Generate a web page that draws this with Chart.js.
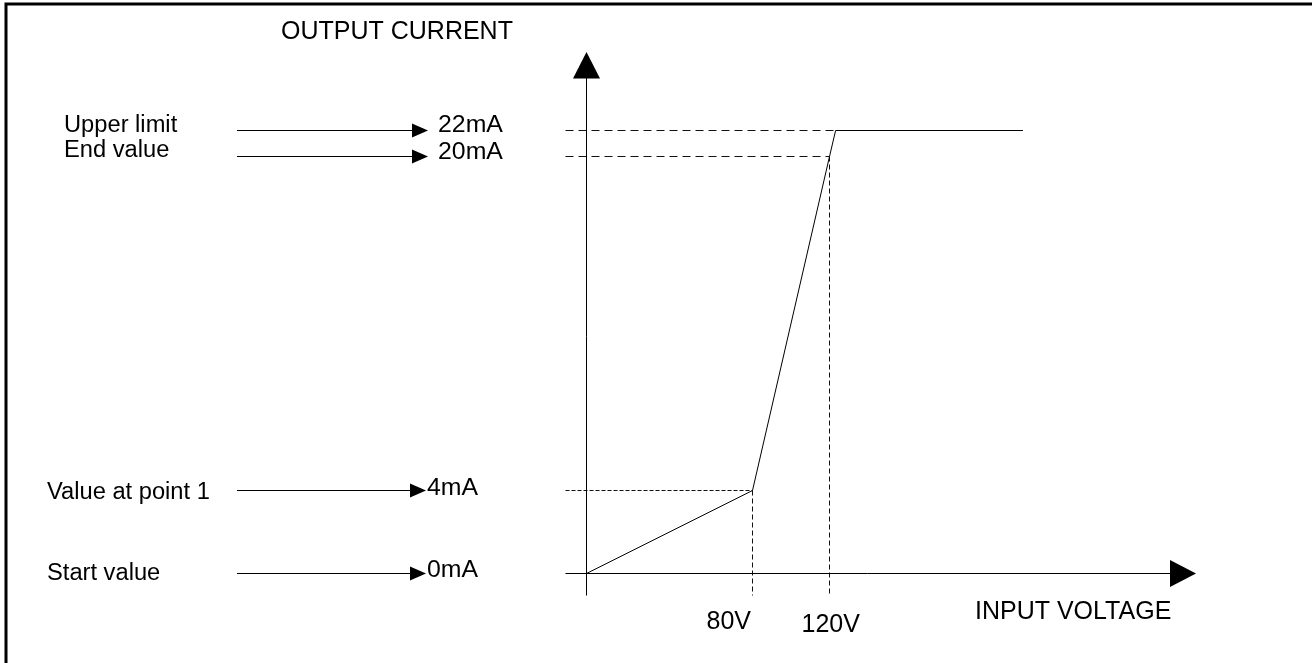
<!DOCTYPE html>
<html>
<head>
<meta charset="utf-8">
<script src="https://cdn.jsdelivr.net/npm/chart.js@4/dist/chart.umd.min.js"></script>
<style>
  html, body { margin: 0; padding: 0; background: #fff; }
  #wrap { width: 1312px; height: 663px; position: relative; }
</style>
</head>
<body>
<div id="wrap"><canvas id="c" width="1312" height="663"></canvas></div>
<script>
// Transfer characteristic: input voltage (V) -> output current (mA)
const voltage = [0, 80, 120, 123, 215];
const current = [0, 4, 20, 22, 22];

// Named current levels listed on the left
const levelNames  = ['Upper limit', 'End value', 'Value at point 1', 'Start value'];
const levelValues = [22, 20, 4, 0];
const levelLabels = ['22mA', '20mA', '4mA', '0mA'];

// Marked voltages under the horizontal axis
const voltValues = [80, 120];
const voltLabels = ['80V', '120V'];

// Axis titles
const yTitle = 'OUTPUT CURRENT';
const xTitle = 'INPUT VOLTAGE';

// ---- layout / style ----
const FONT = '"Liberation Sans", Arial, Helvetica, sans-serif';
const INK = '#000';

// The diagram is a sketch, not to scale: each axis maps values to pixel
// offsets piecewise (offset from the left edge / from the bottom edge).
const axisStops = {
  x: [[0, 0.5], [80, 166.5], [120, 243.5], [300, 610]],
  y: [[0, -0.5], [4, 82.5], [20, 416.5], [22, 442.5], [28, 521]]
};

// Per-row placement of the level captions on the left
// (nameDy / textDy: baseline offset below the arrow line)
const rowStyle = [
  { nameX: 64, arrowFrom: 237, arrowTip: 428, textX: 438, nameDy: 1.5, textDy: 1.5 },
  { nameX: 64, arrowFrom: 237, arrowTip: 428, textX: 438, nameDy: 0.5, textDy: 2 },
  { nameX: 47, arrowFrom: 237, arrowTip: 426, textX: 427, nameDy: 8.5, textDy: 4.5 },
  { nameX: 47, arrowFrom: 237, arrowTip: 426, textX: 427, nameDy: 6.5, textDy: 3.5 }
];
const NAME_FONT = { size: 23, stretch: 1.03 };
const LEVEL_FONT = { size: 23, stretch: 1.08 };
const AXIS_FONT = { size: 25, stretch: 1 };

const voltLabelStyle = [
  { dx: -46, baseline: 629 },
  { dx: -28, baseline: 632 }
];

function interp(pairs, v, a, b) {
  for (let i = 1; i < pairs.length; i++) {
    const p0 = pairs[i - 1], p1 = pairs[i];
    if (v <= p1[a] || i === pairs.length - 1) {
      const t = (v - p0[a]) / (p1[a] - p0[a]);
      return p0[b] + t * (p1[b] - p0[b]);
    }
  }
  return pairs[0][b];
}

const Linear = Chart.LinearScale || Chart.registry.getScale('linear');
class SketchScale extends Linear {
  getPixelForValue(value) {
    if (value === null || value === undefined || isNaN(value)) return NaN;
    const off = interp(axisStops[this.axis], value, 0, 1);
    return this.isHorizontal() ? this.left + off : this.bottom - off;
  }
  getValueForPixel(pixel) {
    const off = this.isHorizontal() ? pixel - this.left : this.bottom - pixel;
    return interp(axisStops[this.axis], off, 1, 0);
  }
}
SketchScale.id = 'sketch';
Chart.register(SketchScale);

function voltageAt(level) {
  const i = current.indexOf(level);
  return i >= 0 ? voltage[i] : null;
}
function currentAt(v) {
  const i = voltage.indexOf(v);
  return i >= 0 ? current[i] : null;
}

function hline(ctx, x0, x1, y, dash) {
  ctx.save();
  ctx.setLineDash(dash || []);
  ctx.beginPath(); ctx.moveTo(x0, y); ctx.lineTo(x1, y); ctx.stroke();
  ctx.restore();
}
function vline(ctx, x, y0, y1, dash) {
  ctx.save();
  ctx.setLineDash(dash || []);
  ctx.beginPath(); ctx.moveTo(x, y0); ctx.lineTo(x, y1); ctx.stroke();
  ctx.restore();
}
function tri(ctx, pts) {
  ctx.beginPath();
  ctx.moveTo(pts[0][0], pts[0][1]);
  ctx.lineTo(pts[1][0], pts[1][1]);
  ctx.lineTo(pts[2][0], pts[2][1]);
  ctx.closePath();
  ctx.fill();
}
// text with its left edge at x and its baseline at y
function label(ctx, str, x, y, font) {
  ctx.save();
  ctx.translate(x, y);
  ctx.scale(font.stretch, 1);
  ctx.font = font.size + 'px ' + FONT;
  ctx.textBaseline = 'alphabetic';
  ctx.textAlign = 'left';
  ctx.fillText(str, 0, 0);
  ctx.restore();
}

const sketch = {
  id: 'sketch',
  beforeDatasetsDraw(chart) {
    const { ctx, scales: { x, y } } = chart;
    const x0 = x.getPixelForValue(0);
    ctx.save();
    ctx.strokeStyle = '#111';
    ctx.lineWidth = 1;
    // horizontal guides from the current levels to the curve
    levelValues.forEach((lv) => {
      if (lv === 0) return;
      const v = voltageAt(lv);
      if (v === null) return;
      const py = y.getPixelForValue(lv);
      const dash = lv > 10 ? [8, 5] : [4, 2];
      hline(ctx, x0 - 21, x.getPixelForValue(v), py, dash);
    });
    // vertical guides down from the marked voltages
    voltValues.forEach((v) => {
      const c = currentAt(v);
      const px = x.getPixelForValue(v);
      vline(ctx, px, y.getPixelForValue(c), y.getPixelForValue(0) + 22, [5, 3]);
    });
    ctx.restore();
  },
  afterDatasetsDraw(chart) {
    const { ctx, scales: { x, y } } = chart;
    const ox = x.getPixelForValue(0);
    const oy = y.getPixelForValue(0);
    const topY = y.getPixelForValue(28);
    const rightX = x.getPixelForValue(300);
    ctx.save();
    ctx.strokeStyle = INK;
    ctx.fillStyle = INK;
    ctx.lineWidth = 1;

    // axes with arrow heads
    vline(ctx, ox, oy + 22, topY + 26);
    tri(ctx, [[ox, topY], [ox - 13.5, topY + 26.5], [ox + 13.5, topY + 26.5]]);
    hline(ctx, ox - 21, rightX - 26, oy);
    tri(ctx, [[rightX, oy], [rightX - 26, oy - 13.5], [rightX - 26, oy + 13.5]]);

    // left captions with pointer arrows
    levelValues.forEach((lv, i) => {
      const st = rowStyle[i];
      const py = y.getPixelForValue(lv);
      hline(ctx, st.arrowFrom, st.arrowTip - 15, py);
      tri(ctx, [[st.arrowTip, py], [st.arrowTip - 16, py - 7], [st.arrowTip - 16, py + 7]]);
      label(ctx, levelNames[i], st.nameX, py + st.nameDy, NAME_FONT);
      label(ctx, levelLabels[i], st.textX, py + st.textDy, LEVEL_FONT);
    });

    // voltage marks
    voltValues.forEach((v, i) => {
      const st = voltLabelStyle[i];
      label(ctx, voltLabels[i], x.getPixelForValue(v) + st.dx, st.baseline, AXIS_FONT);
    });

    // axis titles
    label(ctx, yTitle, 281, 39, AXIS_FONT);
    label(ctx, xTitle, 975, 619, AXIS_FONT);

    // frame (top and left edges)
    ctx.lineWidth = 3;
    ctx.beginPath();
    ctx.moveTo(6, 663); ctx.lineTo(6, 4); ctx.lineTo(1312, 4);
    ctx.stroke();
    ctx.restore();
  }
};

new Chart(document.getElementById('c'), {
  type: 'line',
  data: {
    datasets: [{
      data: voltage.map((v, i) => ({ x: v, y: current[i] })),
      borderColor: INK,
      borderWidth: 1,
      pointRadius: 0,
      tension: 0,
      fill: false,
      clip: false
    }]
  },
  options: {
    responsive: false,
    animation: false,
    devicePixelRatio: 1,
    events: [],
    layout: { padding: { left: 586, right: 116, top: 52, bottom: 90 } },
    plugins: {
      legend: { display: false },
      title: { display: false },
      tooltip: { enabled: false }
    },
    scales: {
      x: { type: 'sketch', min: 0, max: 300, display: false },
      y: { type: 'sketch', min: 0, max: 28, display: false }
    }
  },
  plugins: [sketch]
});
</script>
</body>
</html>
